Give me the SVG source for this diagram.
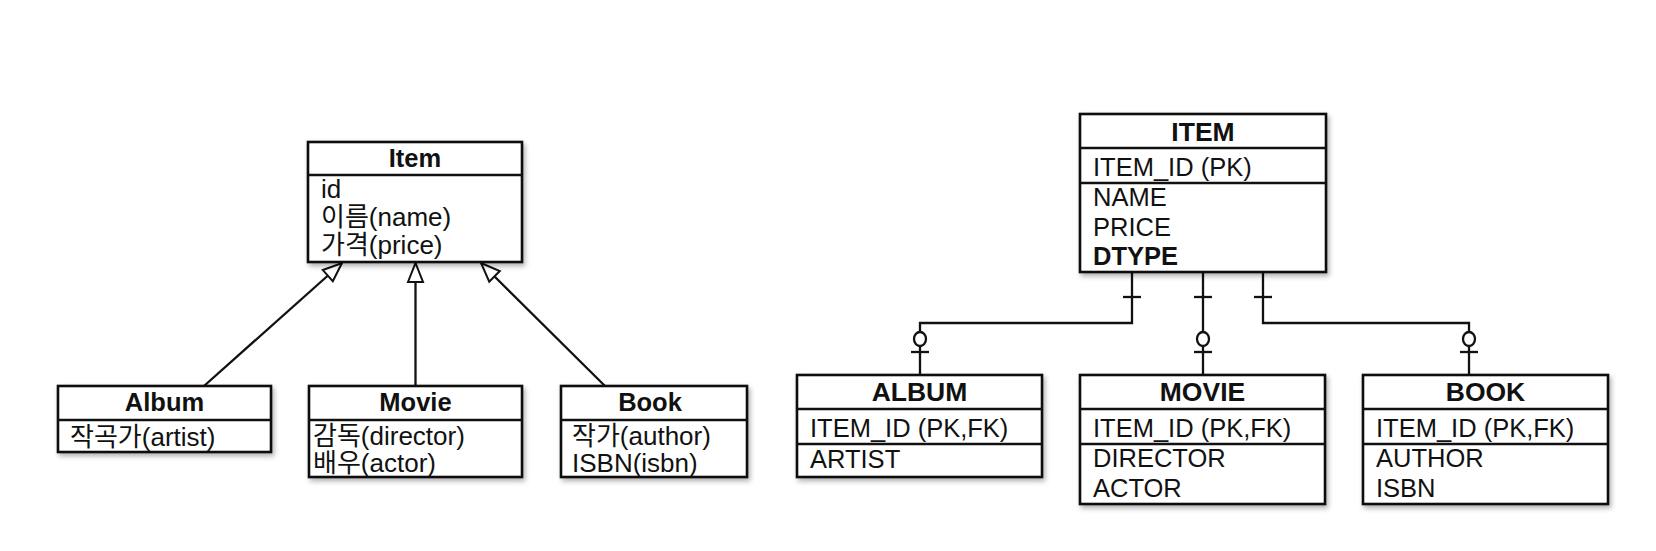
<svg xmlns="http://www.w3.org/2000/svg" width="1656" height="551" viewBox="0 0 1656 551">
<style>
text{font-family:"Liberation Sans","Noto Sans CJK KR",sans-serif;fill:#111}
.box{fill:#fff;stroke:#111;stroke-width:2.6;filter:url(#sh)}
.div{stroke:#111;stroke-width:2.4}
.h1{font-size:25.5px;font-weight:bold;text-anchor:middle}
.a1{font-size:26px}
.h2{font-size:26.5px;font-weight:bold;text-anchor:middle}
.a2{font-size:25.5px}
.b{font-weight:bold}
.ln{fill:none;stroke:#111;stroke-width:2.3}
.oc{fill:#fff;stroke:#111;stroke-width:2.3}
</style>
<defs>
<filter id="sh" x="-10%" y="-10%" width="130%" height="140%">
<feDropShadow dx="2" dy="3" stdDeviation="2.5" flood-color="#000" flood-opacity="0.3"/>
</filter>
<marker id="tri" markerUnits="userSpaceOnUse" markerWidth="24" markerHeight="20" viewBox="0 0 24 20" refX="21" refY="10" orient="auto">
<path d="M2,2.5 L21,10 L2,17.5 Z" fill="#fff" stroke="#111" stroke-width="2"/>
</marker>
</defs>

<g id="connectors">
<line class="ln" x1="204" y1="386" x2="342" y2="263" marker-end="url(#tri)"/>
<line class="ln" x1="415.5" y1="386" x2="415.5" y2="263" marker-end="url(#tri)"/>
<line class="ln" x1="605" y1="386" x2="481" y2="263" marker-end="url(#tri)"/>

<path class="ln" d="M1132,272 V323 H920 V375"/>
<path class="ln" d="M1203,272 V375"/>
<path class="ln" d="M1263,272 V323 H1469 V375"/>
<line class="ln" x1="1123" y1="297" x2="1141" y2="297"/>
<line class="ln" x1="1194" y1="297" x2="1212" y2="297"/>
<line class="ln" x1="1254" y1="297" x2="1272" y2="297"/>
<line class="ln" x1="911" y1="352" x2="929" y2="352"/>
<line class="ln" x1="1194" y1="352" x2="1212" y2="352"/>
<line class="ln" x1="1460" y1="352" x2="1478" y2="352"/>
<ellipse class="oc" cx="920" cy="339" rx="6" ry="7"/>
<ellipse class="oc" cx="1203" cy="339" rx="6" ry="7"/>
<ellipse class="oc" cx="1469" cy="339" rx="6" ry="7"/>
</g>

<g id="item">
<rect class="box" x="308" y="142" width="214" height="120"/>
<line class="div" x1="308" y1="175" x2="522" y2="175"/>
<text class="h1" x="415" y="167">Item</text>
<text class="a1" x="321" y="198">id</text>
<text class="a1" x="321" y="226">이름(name)</text>
<text class="a1" x="321" y="254">가격(price)</text>
</g>

<g id="album">
<rect class="box" x="58" y="386" width="213" height="66"/>
<line class="div" x1="58" y1="420" x2="271" y2="420"/>
<text class="h1" x="164.5" y="411">Album</text>
<text class="a1" x="70" y="446">작곡가(artist)</text>
</g>

<g id="movie">
<rect class="box" x="309" y="386" width="213" height="91"/>
<line class="div" x1="309" y1="420" x2="522" y2="420"/>
<text class="h1" x="415.5" y="411">Movie</text>
<text class="a1" x="313" y="445">감독(director)</text>
<text class="a1" x="313" y="472">배우(actor)</text>
</g>

<g id="book">
<rect class="box" x="561" y="386" width="186" height="91"/>
<line class="div" x1="561" y1="420" x2="747" y2="420"/>
<text class="h1" x="650" y="411">Book</text>
<text class="a1" x="572" y="445">작가(author)</text>
<text class="a1" x="572" y="472">ISBN(isbn)</text>
</g>

<g id="ITEM">
<rect class="box" x="1080" y="114" width="246" height="158"/>
<line class="div" x1="1080" y1="148" x2="1326" y2="148"/>
<line class="div" x1="1080" y1="183" x2="1326" y2="183"/>
<text class="h2" x="1203" y="141">ITEM</text>
<text class="a2" x="1093" y="176">ITEM_ID (PK)</text>
<text class="a2" x="1093" y="206">NAME</text>
<text class="a2" x="1093" y="236">PRICE</text>
<text class="a2 b" x="1093" y="265">DTYPE</text>
</g>

<g id="ALBUM">
<rect class="box" x="797" y="375" width="245" height="102"/>
<line class="div" x1="797" y1="409" x2="1042" y2="409"/>
<line class="div" x1="797" y1="444" x2="1042" y2="444"/>
<text class="h2" x="919.5" y="401">ALBUM</text>
<text class="a2" x="810" y="437">ITEM_ID (PK,FK)</text>
<text class="a2" x="810" y="468">ARTIST</text>
</g>

<g id="MOVIE">
<rect class="box" x="1080" y="375" width="245" height="129"/>
<line class="div" x1="1080" y1="409" x2="1325" y2="409"/>
<line class="div" x1="1080" y1="444" x2="1325" y2="444"/>
<text class="h2" x="1202.5" y="401">MOVIE</text>
<text class="a2" x="1093" y="437">ITEM_ID (PK,FK)</text>
<text class="a2" x="1093" y="467">DIRECTOR</text>
<text class="a2" x="1093" y="497">ACTOR</text>
</g>

<g id="BOOK">
<rect class="box" x="1363" y="375" width="245" height="129"/>
<line class="div" x1="1363" y1="409" x2="1608" y2="409"/>
<line class="div" x1="1363" y1="444" x2="1608" y2="444"/>
<text class="h2" x="1485.5" y="401">BOOK</text>
<text class="a2" x="1376" y="437">ITEM_ID (PK,FK)</text>
<text class="a2" x="1376" y="467">AUTHOR</text>
<text class="a2" x="1376" y="497">ISBN</text>
</g>
</svg>
